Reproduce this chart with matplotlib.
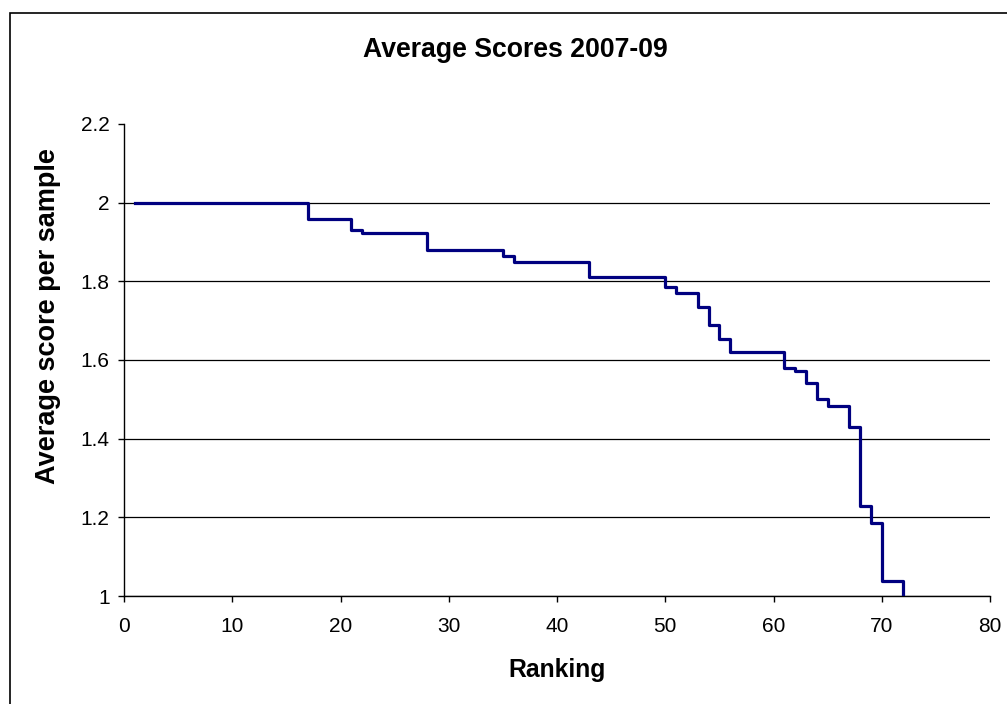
import numpy as np
from matplotlib import pyplot as plt
from matplotlib.patches import Rectangle

# ranking where each level starts, and the average score at that level
ranking = [1, 17, 21, 22, 28, 35, 36, 43, 50, 51, 53, 54, 55, 56, 61, 62, 63, 64, 65, 67, 68, 69, 70, 72]
scores = [2.0, 1.958, 1.93, 1.922, 1.88, 1.864, 1.849, 1.811, 1.785, 1.77, 1.735, 1.69, 1.653, 1.62,
          1.58, 1.572, 1.542, 1.50, 1.482, 1.43, 1.229, 1.186, 1.038, 1.0]

x_ticks = [0, 10, 20, 30, 40, 50, 60, 70, 80]
y_ticks = [1, 1.2, 1.4, 1.6, 1.8, 2, 2.2]
y_tick_labels = ['1', '1.2', '1.4', '1.6', '1.8', '2', '2.2']

plt.rcParams['font.family'] = ['Liberation Sans', 'DejaVu Sans']

fig = plt.figure(figsize=(10.07, 7.04), dpi=100)
ax = fig.add_axes([124 / 1007, 1 - 596 / 704, 866 / 1007, 472 / 704])

# linha em degraus
ax.step(ranking, scores, where='post', color='#000080', lw=2.3, zorder=3)

ax.set_xlim(0, 80)
ax.set_ylim(1, 2.2)
ax.set_xticks(x_ticks)
ax.set_yticks(y_ticks)
ax.set_yticklabels(y_tick_labels)
ax.tick_params(direction='out', length=4.3, width=1, labelsize=15, color='black')
ax.tick_params(axis='x', pad=10.5)
ax.tick_params(axis='y', pad=6)

ax.yaxis.grid(True, color='black', lw=0.9)
ax.get_ygridlines()[-1].set_visible(False)
ax.set_axisbelow(True)

for s in ['top', 'right']:
    ax.spines[s].set_visible(False)
for s in ['left', 'bottom']:
    ax.spines[s].set_linewidth(1)

fig.text(515 / 1007, 1 - 50 / 704, 'Average Scores 2007-09', ha='center', va='center',
         fontsize=19.2, fontweight='bold')
fig.text(557 / 1007, 1 - 670 / 704, 'Ranking', ha='center', va='center',
         fontsize=17.8, fontweight='bold')
fig.text(48 / 1007, 1 - 316 / 704, 'Average score per sample', ha='center', va='center',
         rotation=90, fontsize=19.5, fontweight='bold')

# borda externa do grafico
fig.patches.append(Rectangle((10 / 1007, -0.1), 1.2, 1.1 - 13 / 704, transform=fig.transFigure,
                             fill=False, edgecolor='black', lw=1.2))

fig.savefig('out.png', dpi=100)
plt.close()
